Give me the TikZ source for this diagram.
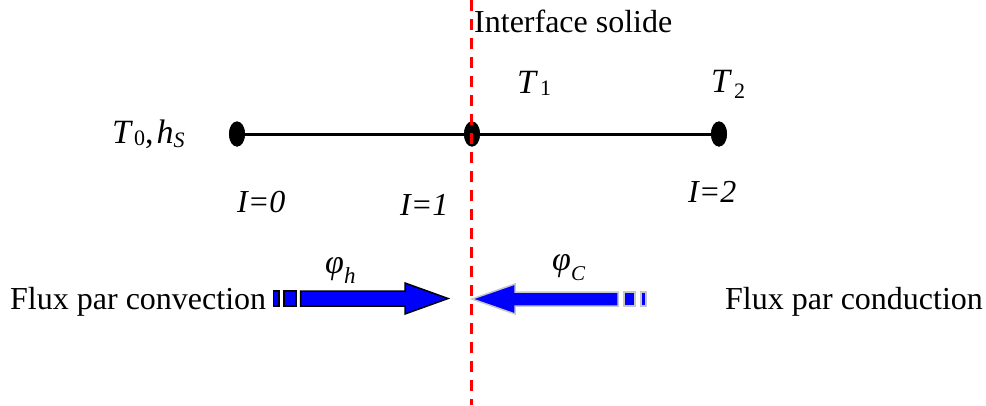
\documentclass[tikz,border=0pt]{standalone}
\usepackage{fontspec}
\setmainfont{Liberation Serif}
\usetikzlibrary{shapes.geometric}
\newcommand{\mysub}[3]{\raisebox{#1}{\fontsize{#2}{#2}\selectfont #3}}
\begin{document}
\begin{tikzpicture}[x=1pt,y=-1pt,
  txt/.style={inner sep=0pt, anchor=base west, font=\fontsize{32}{38}\selectfont},
  mtxt/.style={inner sep=0pt, anchor=base west, font=\fontsize{34}{40}\selectfont},
  itxt/.style={txt, font=\fontsize{32}{38}\selectfont\itshape},
  dot/.style={ellipse, fill=black, draw=none, minimum width=16pt, minimum height=25pt, inner sep=0pt},
  iface/.style={red, line width=3pt, dash pattern=on 11pt off 8pt},
  bar/.style={line width=3pt, black},
  leftarr/.style={fill=blue, draw=black, line width=1.5pt, line join=miter},
  rightarr/.style={fill=blue, draw=black!22, line width=1.5pt, line join=miter}
]
\useasboundingbox (0,0) rectangle (986,405);
% interface line
\coordinate (itop) at (471,0);
\coordinate (ibot) at (471,405);
% bar and nodes
\node[dot] (n0) at (237,134) {};
\node[dot] (n1) at (472,134) {};
\node[dot] (n2) at (719,134) {};
\draw[bar] (n0.center) -- (n2.center);
\node[dot] at (237,134) {};
\node[dot] at (472,134) {};
\node[dot] at (719,134) {};
\draw[iface] (itop) -- (ibot);
% labels
\node[txt] (iface) at (474,32) {Interface solide};
\node[mtxt] (T0) at (112,143) {\textit{T}\kern1pt\mysub{-2pt}{22}{0},\kern3pt\textit{h}\mysub{-4pt}{22}{\itshape S}};
\node[mtxt] (T1) at (517,93) {\textit{T}\kern2pt\mysub{-2pt}{22}{1}};
\node[mtxt] (T2) at (711,92) {\textit{T}\kern2pt\mysub{-6pt}{22}{2}};
\node[itxt] (I0) at (237,212) {I=0};
\node[itxt] (I1) at (400,215) {I=1};
\node[itxt] (I2) at (688,202) {I=2};
\node[txt] (conv) at (10,309) {Flux par convection};
\node[txt] (cond) at (725,309) {Flux par conduction};
\node[mtxt] (phih) at (325,273) {\textit{φ}\mysub{-10pt}{23}{\itshape h}};
\node[mtxt] (phic) at (552,270) {\textit{φ}\mysub{-10pt}{21}{\itshape C}};
% left arrow (convection)
\filldraw[leftarr] (273.3,291) rectangle (279,306);
\filldraw[leftarr] (284,291) rectangle (296,306);
\filldraw[leftarr] (300.7,291) -- (405,291) -- (405,283) -- (448,298.5) -- (405,314) -- (405,306) -- (300.7,306) -- cycle;
% right arrow (conduction)
\filldraw[rightarr] (641,292) rectangle (646,306);
\filldraw[rightarr] (624,292) rectangle (635,306);
\filldraw[rightarr] (618,292) -- (515,292) -- (515,284) -- (472,299) -- (515,314) -- (515,306) -- (618,306) -- cycle;
\end{tikzpicture}
\end{document}
